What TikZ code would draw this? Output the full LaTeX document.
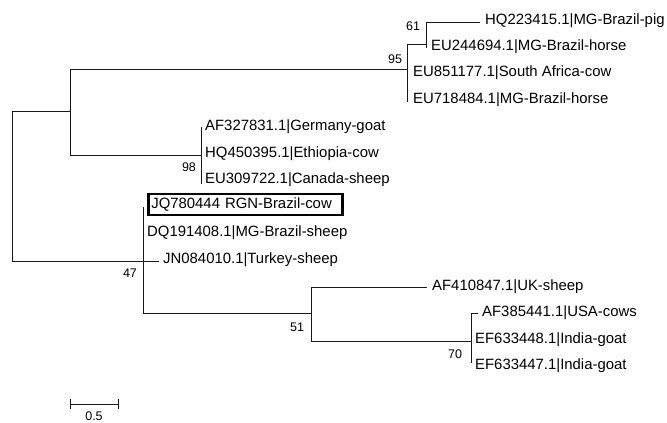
\documentclass[tikz,border=0pt]{standalone}
\usepackage{fontspec}
\setmainfont{Liberation Sans}
\begin{document}
\begin{tikzpicture}[x=1pt,y=-1pt,
  branch/.style={draw=black!90, line width=1pt},
  tip/.style={anchor=west, inner sep=0pt, font=\fontsize{14.9}{17}\selectfont},
  boot/.style={inner sep=0pt, font=\fontsize{12.5}{14}\selectfont},
  hibox/.style={draw=black, line width=2.6pt, anchor=west, inner xsep=3pt, inner ysep=0pt,
    minimum height=21pt, text width=188pt, align=left, font=\fontsize{14.9}{17}\selectfont}]
\useasboundingbox[fill=white] (0,0) rectangle (667,423);

% internal nodes
\coordinate (rootT) at (12,111);
\coordinate (rootB) at (12,261);
\coordinate (nA) at (70,111);
\coordinate (nAT) at (70,69);
\coordinate (nAB) at (70,155);
\coordinate (n95) at (407,69);
\coordinate (n95T) at (407,44);
\coordinate (n95B) at (407,102);
\coordinate (n61) at (426,44);
\coordinate (n61T) at (426,22);
\coordinate (n61B) at (426,48);
\coordinate (n98) at (201,155);
\coordinate (n98T) at (201,127);
\coordinate (n98B) at (201,184);
\coordinate (nB) at (143,261);
\coordinate (nBT) at (143,207);
\coordinate (nBB) at (143,313);
\coordinate (n51) at (311,313);
\coordinate (n51T) at (311,287);
\coordinate (n51B) at (311,341);
\coordinate (n70) at (471,341);
\coordinate (n70T) at (471,313);
\coordinate (n70B) at (471,363);

% tips
\coordinate (tHQ2) at (480,22);
\coordinate (tJN) at (159,261);
\coordinate (tAF4) at (427,287);
\coordinate (tAF3) at (478,313);

% tree lines
\draw[branch] (rootT) -- (rootB);
\draw[branch] (rootT) -- (nA);
\draw[branch] (nAT) -- (nAB);
\draw[branch] (nAT) -- (n95);
\draw[branch] (n95T) -- (n95B);
\draw[branch] (n95T) -- (n61);
\draw[branch] (n61T) -- (n61B);
\draw[branch] (n61T) -- (tHQ2);
\draw[branch] (nAB) -- (n98);
\draw[branch] (n98T) -- (n98B);
\draw[branch] (rootB) -- (nB);
\draw[branch] (nB) -- (tJN);
\draw[branch] (nBT) -- (nBB);
\draw[branch] (nBB) -- (n51);
\draw[branch] (n51T) -- (n51B);
\draw[branch] (n51T) -- (tAF4);
\draw[branch] (n51B) -- (n70);
\draw[branch] (n70T) -- (n70B);
\draw[branch] (n70T) -- (tAF3);

% tip labels
\node[tip] (lHQ2) at (485,21) {HQ223415.1|MG-Brazil-pig};
\node[tip] (lEU24) at (431,47) {EU244694.1|MG-Brazil-horse};
\node[tip] (lEU85) at (413,73) {EU851177.1|South Africa-cow};
\node[tip] (lEU71) at (413,100) {EU718484.1|MG-Brazil-horse};
\node[tip] (lAF32) at (205,127) {AF327831.1|Germany-goat};
\node[tip] (lHQ4) at (205,154) {HQ450395.1|Ethiopia-cow};
\node[tip] (lEU30) at (205,180) {EU309722.1|Canada-sheep};
\node[hibox] (lJQ) at (147,204.5) {JQ780444 RGN-Brazil-cow};
\node[tip] (lDQ) at (147,233) {DQ191408.1|MG-Brazil-sheep};
\node[tip] (lJN) at (163,260) {JN084010.1|Turkey-sheep};
\node[tip] (lAF4) at (432,287) {AF410847.1|UK-sheep};
\node[tip] (lAF3) at (482,313) {AF385441.1|USA-cows};
\node[tip] (lEF8) at (475,340) {EF633448.1|India-goat};
\node[tip] (lEF7) at (475,366) {EF633447.1|India-goat};

% bootstrap values
\node[boot] (b61) at (413,26) {61};
\node[boot] (b95) at (395,59) {95};
\node[boot] (b98) at (189,167) {98};
\node[boot] (b47) at (130,273) {47};
\node[boot] (b51) at (297,327) {51};
\node[boot] (b70) at (455,354) {70};

% scale bar
\coordinate (sL) at (70,404);
\coordinate (sR) at (118,404);
\draw[branch] (sL) -- (sR);
\draw[branch] ([yshift=-5pt]sL) -- ([yshift=5pt]sL);
\draw[branch] ([yshift=-5pt]sR) -- ([yshift=5pt]sR);
\node[boot] (sLab) at (94,416) {0.5};
\end{tikzpicture}
\end{document}
